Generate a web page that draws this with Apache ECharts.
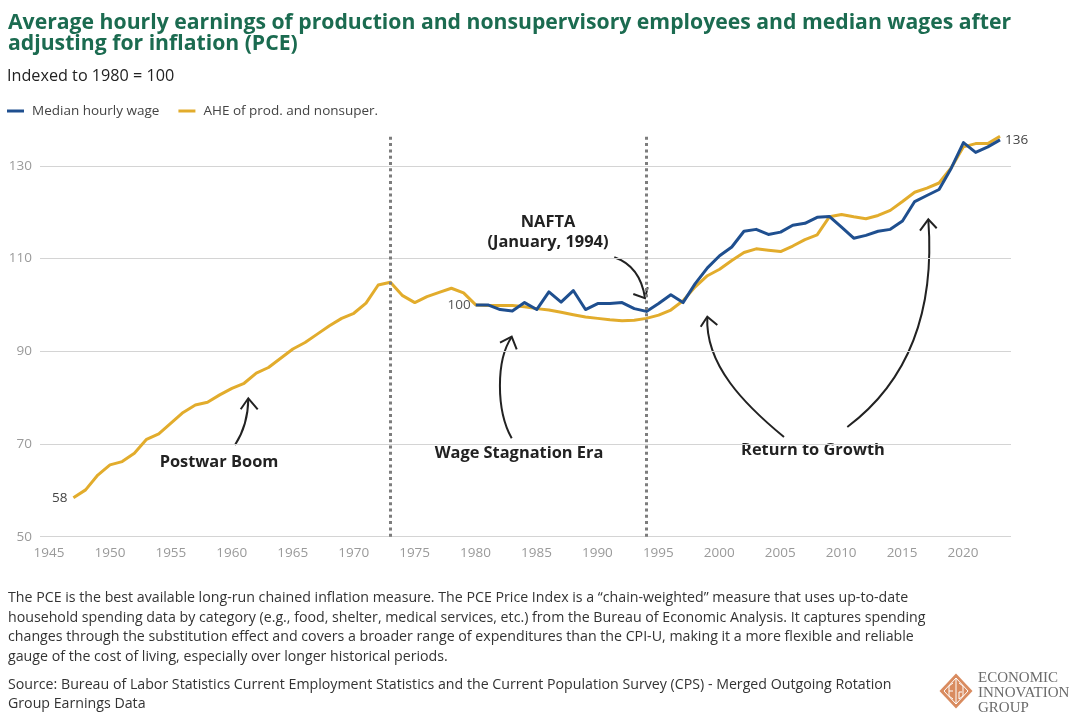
<!DOCTYPE html>
<html><head><meta charset="utf-8">
<script src="https://cdn.jsdelivr.net/npm/echarts@6/dist/echarts.min.js"></script>
<style>html,body{margin:0;padding:0;background:#fff}#c{width:1080px;height:723px}</style>
</head><body><div id="c"></div>
<script>
// ---- data ----
const aheYears = [1947,1948,1949,1950,1951,1952,1953,1954,1955,1956,1957,1958,1959,1960,1961,1962,1963,1964,1965,1966,1967,1968,1969,1970,1971,1972,1973,1974,1975,1976,1977,1978,1979,1980,1981,1982,1983,1984,1985,1986,1987,1988,1989,1990,1991,1992,1993,1994,1995,1996,1997,1998,1999,2000,2001,2002,2003,2004,2005,2006,2007,2008,2009,2010,2011,2012,2013,2014,2015,2016,2017,2018,2019,2020,2021,2022,2023];
const aheValues = [58.4,60.1,63.3,65.5,66.2,68.0,71.0,72.2,74.5,76.8,78.4,79.0,80.6,82.0,83.1,85.3,86.5,88.5,90.5,91.9,93.7,95.5,97.1,98.2,100.4,104.3,104.9,102.0,100.5,101.8,102.7,103.6,102.6,100.0,99.9,99.9,99.9,99.6,99.2,98.9,98.4,97.9,97.4,97.1,96.8,96.6,96.7,97.1,97.8,98.9,100.9,103.9,106.3,107.7,109.6,111.3,112.1,111.8,111.5,112.7,114.1,115.1,119.0,119.5,119.0,118.6,119.3,120.4,122.3,124.3,125.2,126.3,129.6,134.1,134.8,134.8,136.4];
const medianYears = [1980,1981,1982,1983,1984,1985,1986,1987,1988,1989,1990,1991,1992,1993,1994,1995,1996,1997,1998,1999,2000,2001,2002,2003,2004,2005,2006,2007,2008,2009,2010,2011,2012,2013,2014,2015,2016,2017,2018,2019,2020,2021,2022,2023];
const medianValues = [100.0,100.0,99.0,98.7,100.5,99.0,102.8,100.6,103.1,99.0,100.3,100.3,100.5,99.2,98.6,100.3,102.2,100.5,104.6,108.0,110.6,112.5,115.9,116.3,115.2,115.7,117.2,117.6,118.9,119.1,116.8,114.4,115.0,115.9,116.3,118.1,122.3,123.6,124.9,129.5,135.0,132.9,134.1,135.6];
const seriesNames = ['Median hourly wage', 'AHE of prod. and nonsuper.'];
const eraBreaks = [1973, 1994];
const yTickLabels = [50, 70, 90, 110, 130];
const xTickFirst = 1945, xTickLast = 2020, xTickStep = 5;

// ---- styles ----
const FONT = '"Open Sans", "Noto Sans", sans-serif';
const BLUE = '#1f4f8f';
const GOLD = '#e2ac2c';

const chart = echarts.init(document.getElementById('c'), null, {renderer: 'canvas'});

const arrowStyle = {stroke: '#222', lineWidth: 2, fill: null};
function curve(x1,y1,cpx1,cpy1,cpx2,cpy2,x2,y2){
  return {type:'bezierCurve', shape:{x1,y1,cpx1,cpy1,cpx2,cpy2,x2,y2}, style: arrowStyle, silent:true};
}
function head(pts){
  return {type:'polyline', shape:{points: pts}, style: {stroke:'#222', lineWidth:2, fill:null}, silent:true};
}
function label(text, x, y){
  return {type:'text', silent:true, style:{text, x, y, align:'center', verticalAlign:'middle', fontFamily:FONT, fontSize:16.4, fontWeight:'bold', fill:'#222'}};
}

const option = {
  backgroundColor: '#fff',
  animation: false,
  textStyle: {fontFamily: FONT},
  title: [
    {text: 'Average hourly earnings of production and nonsupervisory employees and median wages after\nadjusting for inflation (PCE)',
     left: 8, top: 12, padding: 0,
     textStyle: {fontFamily: FONT, fontSize: 21.2, fontWeight: 'bold', color: '#1b6b50', lineHeight: 21}},
    {text: 'Indexed to 1980 = 100', left: 7, top: 67, padding: 0,
     textStyle: {fontFamily: FONT, fontSize: 16.2, fontWeight: 'normal', color: '#222', lineHeight: 19}}
  ],
  legend: {
    left: 7, top: 102, padding: 0,
    itemWidth: 17, itemHeight: 3, itemGap: 19,
    icon: 'rect',
    data: seriesNames,
    textStyle: {fontFamily: FONT, fontSize: 13.5, color: '#444', padding: [0,0,0,3], lineHeight: 18}
  },
  grid: [
    {left: 40, right: 69, top: 119.5, bottom: 186.3, containLabel: false, outerBoundsMode: 'none'},
    {left: 49, right: 117, top: 119.5, bottom: 186.3, containLabel: false, outerBoundsMode: 'none'}
  ],
  xAxis: [
    {
      type: 'value', gridIndex: 0, min: 1944.26, max: 2023.9,
      axisLine: {show: false}, axisTick: {show: false}, splitLine: {show: false},
      axisLabel: {show: false}
    },
    {
      type: 'value', gridIndex: 1, min: xTickFirst, max: xTickLast, interval: xTickStep,
      axisLine: {show: false}, axisTick: {show: false}, splitLine: {show: false},
      axisLabel: {color: '#9a9a9a', fontSize: 13.5, fontFamily: FONT, margin: 9, hideOverlap: false,
        formatter: v => String(v)}
    }
  ],
  yAxis: [
    {
      type: 'value', gridIndex: 0, min: 50, max: 140, interval: 10,
      axisLine: {show: false}, axisTick: {show: false},
      splitLine: {show: true, lineStyle: {color: ['#d4d4d4', 'rgba(0,0,0,0)'], width: 1.2}},
      axisLabel: {
        color: '#9a9a9a', fontSize: 13.5, fontFamily: FONT, margin: 8,
        formatter: v => yTickLabels.indexOf(v) >= 0 ? String(v) : ''
      }
    },
    {type: 'value', gridIndex: 1, min: 50, max: 140, show: false, splitLine: {show: false}}
  ],
  series: [
    {
      name: seriesNames[0], type: 'line', z: 4, xAxisIndex: 0, yAxisIndex: 0,
      data: medianYears.map((y, i) => [y, medianValues[i]]),
      symbol: 'none', showSymbol: false,
      lineStyle: {color: BLUE, width: 3, join: 'round'}, itemStyle: {color: BLUE},
      endLabel: {show: true, distance: 5, color: '#444', fontSize: 13.5, fontFamily: FONT,
        formatter: p => String(Math.round(p.value[1]))},
      markPoint: {
        symbol: 'circle', symbolSize: 0, silent: true,
        label: {show: true, position: 'left', distance: 5, color: '#555', fontSize: 13.5, fontFamily: FONT,
          formatter: p => String(Math.round(p.data.coord[1]))},
        data: [{coord: [medianYears[0], medianValues[0]]}]
      }
    },
    {
      name: seriesNames[1], type: 'line', z: 3, xAxisIndex: 0, yAxisIndex: 0,
      data: aheYears.map((y, i) => [y, aheValues[i]]),
      symbol: 'none', showSymbol: false,
      lineStyle: {color: GOLD, width: 3, join: 'round'}, itemStyle: {color: GOLD},
      markPoint: {
        symbol: 'circle', symbolSize: 0, silent: true,
        label: {show: true, position: 'left', distance: 6, color: '#444', fontSize: 13.5, fontFamily: FONT,
          formatter: p => String(Math.round(p.data.coord[1]))},
        data: [{coord: [aheYears[0], aheValues[0]]}]
      },
      markLine: {
        silent: true, symbol: ['none', 'none'], animation: false,
        label: {show: false},
        lineStyle: {type: [3, 3.3], width: 3, color: '#7d7d7d'},
        data: eraBreaks.map(x => [{coord: [x, 50]}, {coord: [x, 136.3]}])
      }
    }
  ],
  graphic: [
    label('Postwar Boom', 219, 462),
    label('Wage Stagnation Era', 519, 453),
    label('NAFTA', 548, 222),
    label('(January, 1994)', 548, 242),
    label('Return to Growth', 813, 450),
    // arrows
    {type:'bezierCurve', silent:true, shape:{x1:235,y1:445,cpx1:248,cpy1:425,x2:248.3,y2:399}, style: arrowStyle},
    head([[240.7,409.3],[248.3,398.3],[257.7,409.3]]),
    curve(511.7,438.3, 496,410, 496,360, 511.7,337),
    head([[500,342.7],[511.7,336.7],[516.7,349.3]]),
    curve(614.3,257.3, 628,262, 641,272, 645,298),
    head([[633.3,294],[645,298.3],[647.7,287.3]]),
    curve(784,437, 745,405, 705,365, 707.3,317),
    head([[700.7,326.7],[707.3,316.7],[717.3,325]]),
    curve(847.3,427, 910,380, 935,310, 928.3,219.5),
    head([[920,230.7],[928.3,219.3],[936.7,228.3]]),
    // footer
    {type:'text', silent:true, left: 8, top: 588, style:{
      text: 'The PCE is the best available long-run chained inflation measure. The PCE Price Index is a \u201cchain-weighted\u201d measure that uses up-to-date\nhousehold spending data by category (e.g., food, shelter, medical services, etc.) from the Bureau of Economic Analysis. It captures spending\nchanges through the substitution effect and covers a broader range of expenditures than the CPI-U, making it a more flexible and reliable\ngauge of the cost of living, especially over longer historical periods.',
      fontFamily: FONT, fontSize: 14.2, lineHeight: 19.7, fill: '#333'}},
    {type:'text', silent:true, left: 8, top: 675, style:{
      text: 'Source: Bureau of Labor Statistics Current Employment Statistics and the Current Population Survey (CPS) - Merged Outgoing Rotation\nGroup Earnings Data',
      fontFamily: FONT, fontSize: 14.2, lineHeight: 19, fill: '#333'}},
    // logo
    {type:'polygon', silent:true, shape:{points:[[956,673.5],[972.5,691],[956,708.5],[939.5,691]]}, style:{fill:'#d98b5f'}},
    {type:'polyline', silent:true, shape:{points:[[956,678],[968,691],[956,704],[944,691],[956,678]]}, style:{stroke:'#fff', lineWidth:1, fill:null}},
    {type:'line', silent:true, shape:{x1:956,y1:678,x2:956,y2:704}, style:{stroke:'#fff', lineWidth:1}},
    {type:'polyline', silent:true, shape:{points:[[953,683],[949,686],[949,696],[953,699]]}, style:{stroke:'#fff', lineWidth:1, fill:null}},
    {type:'line', silent:true, shape:{x1:949,y1:691,x2:953,y2:691}, style:{stroke:'#fff', lineWidth:1}},
    {type:'polyline', silent:true, shape:{points:[[959,683],[963,686],[963,696],[959,699],[959,692],[962,692]]}, style:{stroke:'#fff', lineWidth:1, fill:null}},
    {type:'text', silent:true, left: 978, top: 670.5, style:{
      text: 'ECONOMIC\nINNOVATION\nGROUP', fontFamily: '"Liberation Serif", "DejaVu Serif", serif',
      fontSize: 15, lineHeight: 15, fill: '#6b6b6b'}}
  ]
};
chart.setOption(option);
</script>
</body></html>
